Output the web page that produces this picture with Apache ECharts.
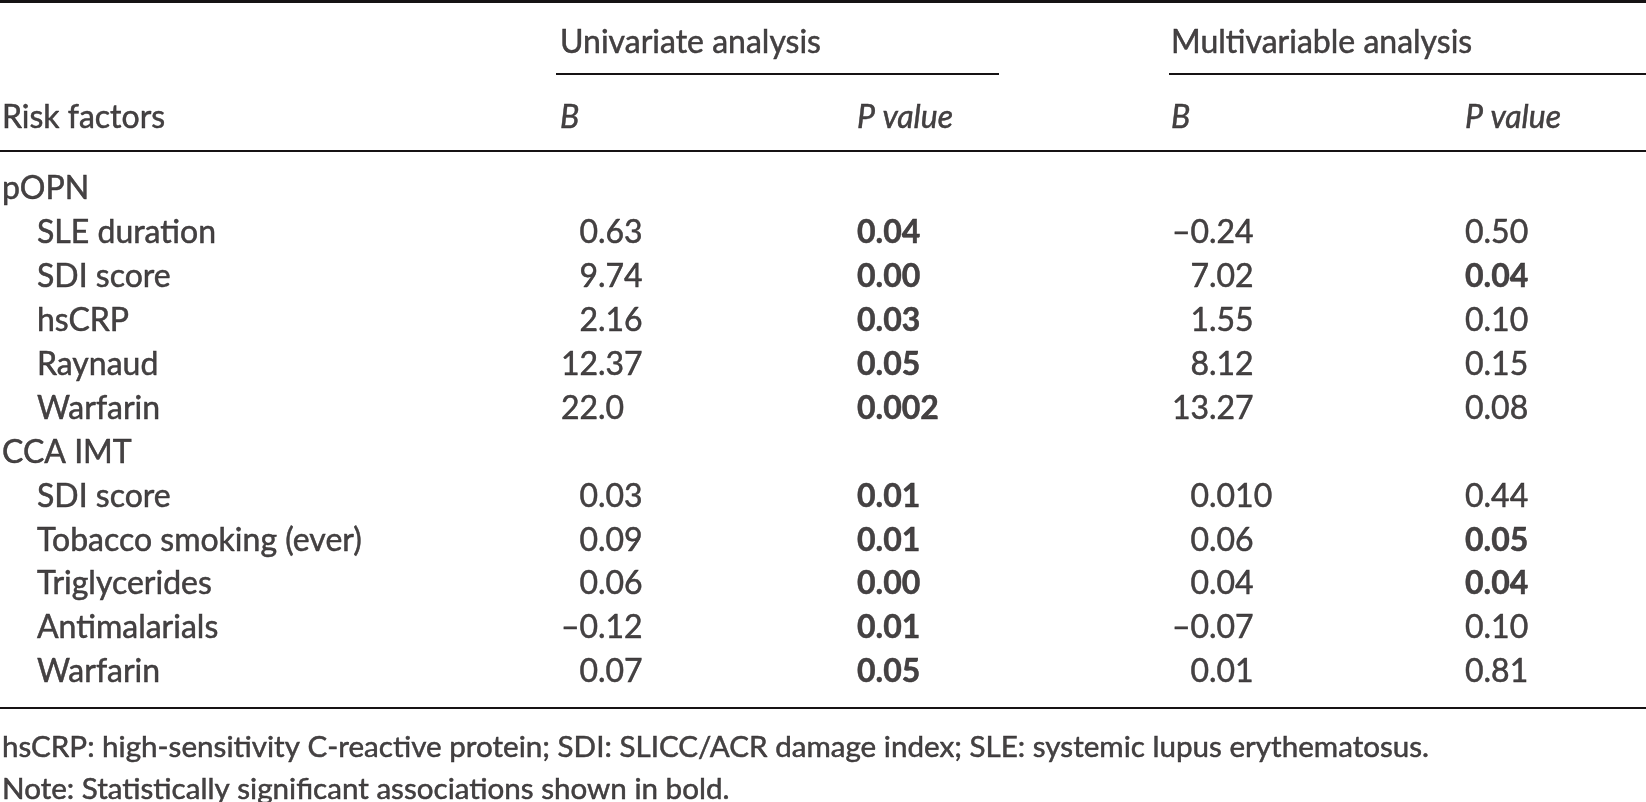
<!DOCTYPE html>
<html>
<head>
<meta charset="utf-8">
<script src="https://cdn.jsdelivr.net/npm/echarts@6/dist/echarts.min.js"></script>
<style>
  html, body { margin: 0; padding: 0; background: #fff; }
  #chart { width: 1646px; height: 802px; }
</style>
</head>
<body>
<div id="chart"></div>
<script>
// table content
const rowLabels = ['pOPN', 'SLE duration', 'SDI score', 'hsCRP', 'Raynaud', 'Warfarin',
  'CCA IMT', 'SDI score', 'Tobacco smoking (ever)', 'Triglycerides', 'Antimalarials', 'Warfarin'];
const rowIsGroup = [true, false, false, false, false, false, true, false, false, false, false, false];

const uniB = [null, '0.63', '9.74', '2.16', '12.37', '22.0', null, '0.03', '0.09', '0.06', '–0.12', '0.07'];
const uniP = [null, '0.04', '0.00', '0.03', '0.05', '0.002', null, '0.01', '0.01', '0.00', '0.01', '0.05'];
const uniPBold = [false, true, true, true, true, true, false, true, true, true, true, true];

const multiB = [null, '–0.24', '7.02', '1.55', '8.12', '13.27', null, '0.010', '0.06', '0.04', '–0.07', '0.01'];
const multiP = [null, '0.50', '0.04', '0.10', '0.15', '0.08', null, '0.44', '0.05', '0.04', '0.10', '0.81'];
const multiPBold = [false, false, true, false, false, false, false, false, true, true, false, false];

const spanHeaders = ['Univariate analysis', 'Multivariable analysis'];
const colHeaders = ['Risk factors', 'B', 'P value', 'B', 'P value'];
const footnotes = [
  'hsCRP: high-sensitivity C-reactive protein; SDI: SLICC/ACR damage index; SLE: systemic lupus erythematosus.',
  'Note: Statistically significant associations shown in bold.'
];

// layout (x in px, y in row units: body row i sits at i)
const W = 1646, H = 802;
const ROW0 = 189, ROW_H = 43.9;
const X_LABEL = 2, X_INDENT = 37;
const X_COL = [X_LABEL, 560, 857, 1171, 1465];
const X_DEC_UNI_B = 598, X_DEC_MULTI_B = 1209;
const Y_SPAN = -3.34, Y_HEAD = -1.62;
const Y_FOOT = [12.72, 13.68];
const RULE_TOP = -4.28, RULE_SPAN = -2.62, RULE_HEAD = -0.87, RULE_BOTTOM = 11.81;
const INK = '#161314';
const FONT = 'Lato';
const FS = 32, FS_NOTE = 29.6;

const items = [];
function cell(x, y, text, opts) {
  items.push({ value: [x, y, text], label: Object.assign({ align: 'left' }, opts || {}) });
}
// decimal-aligned number: integer part ends at xDec, fraction starts there
function decCell(xDec, y, text) {
  const k = text.indexOf('.');
  cell(xDec, y, text.slice(0, k), { align: 'right' });
  cell(xDec, y, text.slice(k), { align: 'left' });
}

cell(X_COL[1], Y_SPAN, spanHeaders[0]);
cell(X_COL[3], Y_SPAN, spanHeaders[1]);
colHeaders.forEach((h, c) => cell(X_COL[c], Y_HEAD, h, { fontStyle: c === 0 ? 'normal' : 'italic' }));

rowLabels.forEach((name, i) => {
  cell(rowIsGroup[i] ? X_LABEL : X_INDENT, i, name);
  if (uniB[i] != null) decCell(X_DEC_UNI_B, i, uniB[i]);
  if (uniP[i] != null) cell(X_COL[2], i, uniP[i], { fontWeight: uniPBold[i] ? 'bold' : 'normal' });
  if (multiB[i] != null) decCell(X_DEC_MULTI_B, i, multiB[i]);
  if (multiP[i] != null) cell(X_COL[4], i, multiP[i], { fontWeight: multiPBold[i] ? 'bold' : 'normal' });
});

footnotes.forEach((t, k) => cell(X_LABEL, Y_FOOT[k], t, { fontSize: FS_NOTE }));

function rule(y, x0, x1, w) {
  return [
    { coord: [x0, y], lineStyle: { width: w || 2, color: INK, type: 'solid' } },
    { coord: [x1, y] }
  ];
}

const chart = echarts.init(document.getElementById('chart'), null, { renderer: 'canvas' });
chart.setOption({
  backgroundColor: '#ffffff',
  animation: false,
  grid: { left: 0, right: 0, top: 0, bottom: 0 },
  xAxis: { type: 'value', min: 0, max: W, show: false },
  yAxis: { type: 'value', inverse: true, min: -ROW0 / ROW_H, max: (H - ROW0) / ROW_H, show: false },
  series: [{
    type: 'scatter',
    silent: true,
    symbolSize: 1,
    itemStyle: { color: 'rgba(0,0,0,0)' },
    label: {
      show: true,
      position: 'inside',
      verticalAlign: 'middle',
      color: INK,
      fontFamily: FONT,
      fontSize: FS,
      textBorderColor: INK,
      textBorderWidth: 0.5,
      formatter: p => p.value[2]
    },
    data: items,
    markLine: {
      silent: true,
      symbol: ['none', 'none'],
      label: { show: false },
      data: [
        rule(RULE_TOP, 0, W, 3),
        rule(RULE_SPAN, X_COL[1] - 4, 999),
        rule(RULE_SPAN, X_COL[3] - 2, W),
        rule(RULE_HEAD, 0, W),
        rule(RULE_BOTTOM, 0, W)
      ]
    }
  }]
});
</script>
</body>
</html>
